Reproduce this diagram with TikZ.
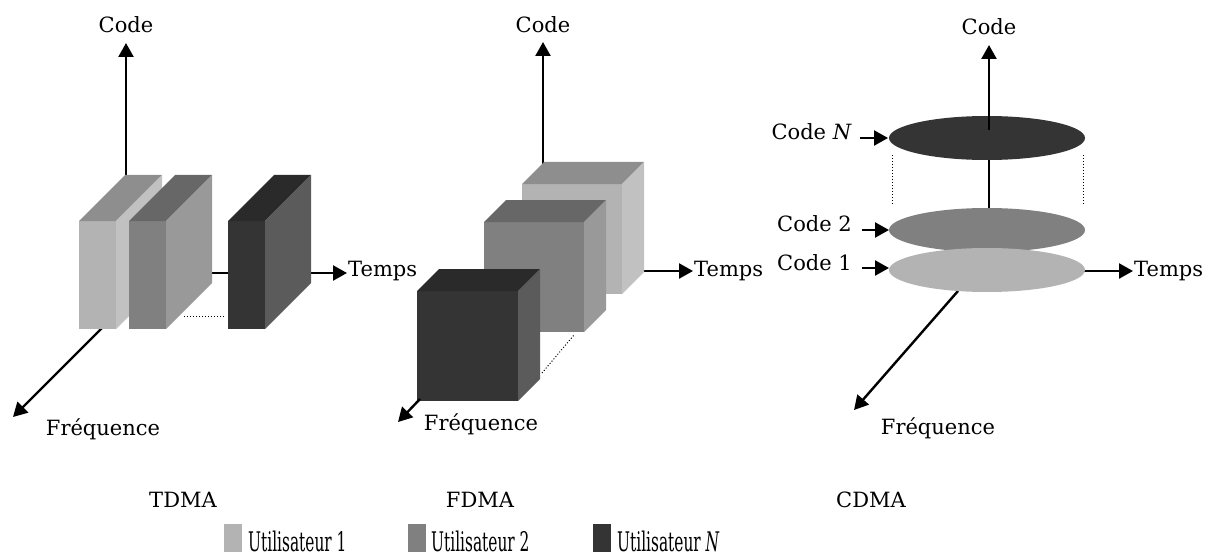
\documentclass[tikz,border=0pt]{standalone}
\usepackage{graphicx}
\usepackage{fontspec}
\setmainfont{DejaVu Serif}
\usetikzlibrary{arrows.meta}
\definecolor{lfront}{HTML}{B3B3B3}
\definecolor{lside}{HTML}{C1C1C1}
\definecolor{ltop}{HTML}{8E8E8E}
\definecolor{mfront}{HTML}{808080}
\definecolor{mside}{HTML}{999999}
\definecolor{mtop}{HTML}{676767}
\definecolor{dfront}{HTML}{343434}
\definecolor{dside}{HTML}{5B5B5B}
\definecolor{dtop}{HTML}{2A2A2A}
\newcommand{\cuboid}[6]{%
  \fill[#6front] (#1,#2) rectangle (#3,#4);
  \fill[#6top] (#1,#2) -- (#1+#5,#2-#5) -- (#3+#5,#2-#5) -- (#3,#2) -- cycle;
  \fill[#6side] (#3,#2) -- (#3+#5,#2-#5) -- (#3+#5,#4-#5) -- (#3,#4) -- cycle;}
\begin{document}
\begin{tikzpicture}[x=1pt,y=-1pt,
  axis/.style={line width=2.4pt,-{Triangle[length=14pt,width=15pt]}},
  plainline/.style={line width=2.4pt},
  dotline/.style={line width=1pt,dotted},
  lab/.style={font=\fontsize{21}{25}\selectfont,inner sep=0pt},
  leg/.style={font=\fontsize{27}{31}\selectfont,inner sep=0pt}]
\useasboundingbox (0,0) rectangle (1214,556);

% ---------------- TDMA ----------------
\coordinate (tC0) at (126,180);
\coordinate (tC1) at (126,43);
\coordinate (tT0) at (170,273);
\coordinate (tT1) at (347,273);
\coordinate (tF0) at (108,322);
\coordinate (tF1) at (13,417);
\draw[axis] (tC0) -- (tC1);
\draw[axis] (tT0) -- (tT1);
\draw[axis] (tF0) -- (tF1);
\cuboid{79}{221}{116}{329}{46}{l}
\cuboid{129}{221}{166}{329}{46}{m}
\cuboid{228}{221}{265}{329}{46}{d}
\coordinate (tD0) at (184,316);
\coordinate (tD1) at (225,316);
\draw[dotline] (tD0) -- (tD1);
\node[lab,anchor=base] (tcode) at (126,33) {Code};
\node[lab,anchor=base west] (ttemps) at (348,276) {Temps};
\node[lab,anchor=base] (tfreq) at (103,435) {Fréquence};
\node[lab,anchor=base] (ttitle) at (183,507) {TDMA};

% ---------------- FDMA ----------------
\coordinate (fC0) at (543,170);
\coordinate (fC1) at (543,42);
\coordinate (fT0) at (630,271);
\coordinate (fT1) at (693,271);
\coordinate (fF0) at (420,399);
\coordinate (fF1) at (398,422);
\draw[axis] (fC0) -- (fC1);
\draw[axis] (fT0) -- (fT1);
\cuboid{522}{184}{622}{294}{22}{l}
\cuboid{484}{222}{584}{332}{22}{m}
\coordinate (fD0) at (542,373);
\coordinate (fD1) at (574,335);
\draw[dotline] (fD0) -- (fD1);
\cuboid{417}{291}{518}{401}{22}{d}
\draw[axis] (fF0) -- (fF1);
\node[lab,anchor=base] (fcode) at (543,33) {Code};
\node[lab,anchor=base west] (ftemps) at (694,276) {Temps};
\node[lab,anchor=base] (ffreq) at (481,430) {Fréquence};
\node[lab,anchor=base] (ftitle) at (480,507) {FDMA};

% ---------------- CDMA ----------------
\coordinate (cC0) at (989,130);
\coordinate (cC1) at (989,45);
\coordinate (cL0) at (989,160);
\coordinate (cL1) at (989,208);
\coordinate (cT0) at (1083,271);
\coordinate (cT1) at (1133,271);
\coordinate (cF0) at (958,291);
\coordinate (cF1) at (854,410);
\draw[plainline] (cL0) -- (cL1);
\draw[dotline] (892,155) -- (892,204);
\draw[dotline] (1083,155) -- (1083,204);
\draw[axis] (cF0) -- (cF1);
\draw[axis] (cT0) -- (cT1);
\fill[mfront] (987,230) ellipse [x radius=98pt, y radius=22pt];
\fill[lfront] (987,270) ellipse [x radius=98pt, y radius=22pt];
\fill[dfront] (987,138) ellipse [x radius=98pt, y radius=22pt];
\draw[axis] (cC0) -- (cC1);
\node[lab,anchor=base] (ccode) at (989,35) {Code};
\node[lab,anchor=base west] (ctemps) at (1134,276) {Temps};
\node[lab,anchor=base] (cfreq) at (938,434) {Fréquence};
\node[lab,anchor=base] (ctitle) at (871,507) {CDMA};
\node[lab,anchor=base east] (cN) at (852,140) {Code \textit{N}};
\node[lab,anchor=base east] (c2) at (852,231) {Code 2};
\node[lab,anchor=base east] (c1) at (852,270) {Code 1};
\coordinate (cNe) at (888,138);
\coordinate (c2e) at (889,230);
\coordinate (c1e) at (889,268);
\draw[axis] ([xshift=8pt]cN.base east |- cNe) -- (cNe);
\draw[axis] ([xshift=10pt]c2.base east |- c2e) -- (c2e);
\draw[axis] ([xshift=10pt]c1.base east |- c1e) -- (c1e);

% ---------------- Legend ----------------
\fill[lfront] (224,524) rectangle (242,552);
\fill[mfront] (408,524) rectangle (426,552);
\fill[dfront] (593,524) rectangle (611,552);
\node[leg,anchor=base west] (u1) at (248,551) {\scalebox{0.57}[1]{Utilisateur 1}};
\node[leg,anchor=base west] (u2) at (431,551) {\scalebox{0.57}[1]{Utilisateur 2}};
\node[leg,anchor=base west] (uN) at (617,551) {\scalebox{0.57}[1]{Utilisateur \textit{N}}};
\end{tikzpicture}
\end{document}
